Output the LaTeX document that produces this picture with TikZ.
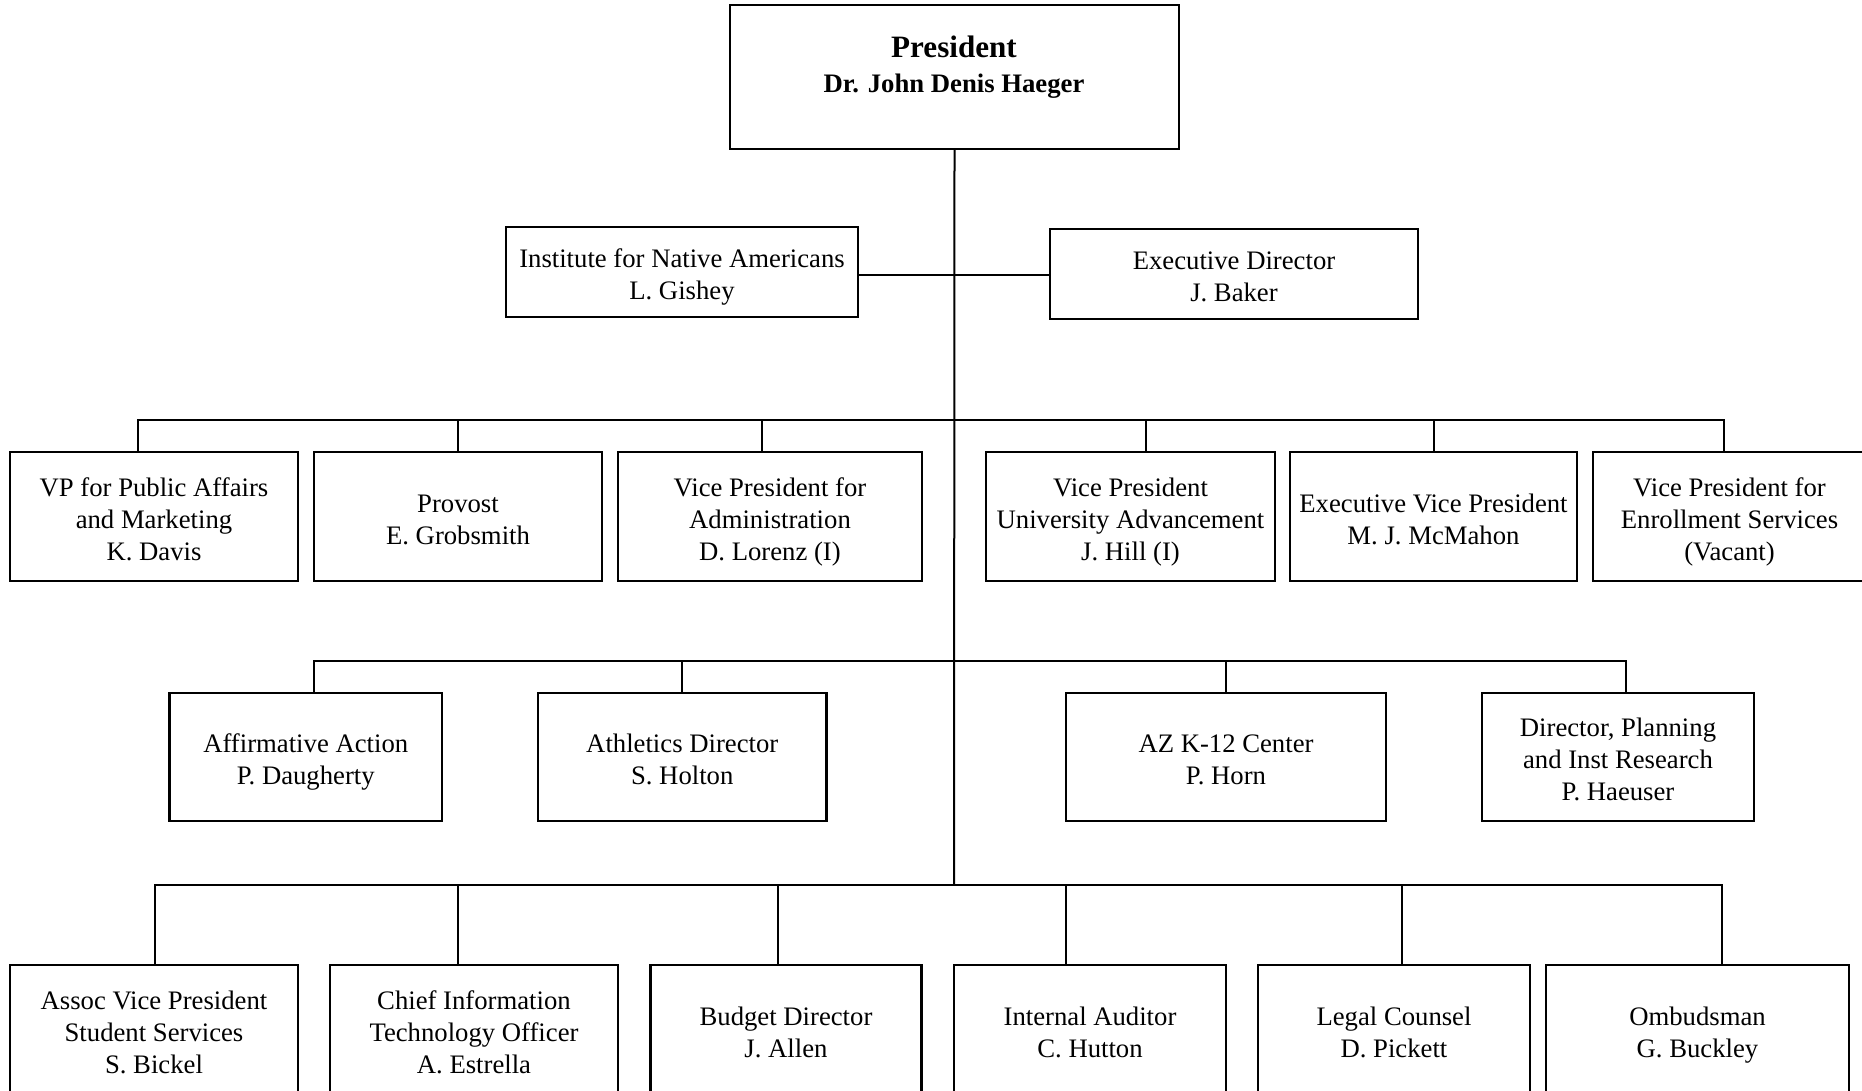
\documentclass[tikz,border=0pt]{standalone}
\usepackage{fontspec}
\setmainfont{Liberation Serif}
\newcommand{\tstr}{\rule{0pt}{29.5pt}}
\newcommand{\bstr}{\rule[-6pt]{0pt}{6pt}}
\begin{document}
\begin{tikzpicture}[x=1pt,y=-1pt,
  box/.style={draw,line width=2.4pt,inner sep=0pt,align=center,
    font={\fontsize{26.7}{32}\selectfont}},
  lvltwo/.style={box,minimum height=129},
  lvlthree/.style={box,minimum height=128},
  lvlfour/.style={box,minimum height=129},
  conn/.style={line width=2pt}]
\useasboundingbox (0,0) rectangle (1862,1090);
\clip (0,0) rectangle (1862,1090);
\fill[white] (0,0) rectangle (1862,1090);

% President
\node[draw,line width=2.4pt,inner sep=0pt,minimum width=449,minimum height=144] (pres) at (954.5,77) {};
\node[font={\fontsize{31.1}{36}\selectfont\bfseries}] (prest) at (954,46.5) {President};
\node[font={\fontsize{26.7}{32}\selectfont\bfseries}] (presn) at (954,86.5) {Dr. John Denis Haeger};

% Level 1
\node[box,minimum width=352,minimum height=90] (ina) at (682,272) {\tstr Institute for Native Americans\\L. Gishey\bstr};
\node[box,minimum width=368,minimum height=90] (exd) at (1234,274) {\tstr Executive Director\\J. Baker\bstr};

% Level 2
\node[lvltwo,minimum width=288] (vppa) at (154,516.5) {\tstr VP for Public Affairs\\and Marketing\\K. Davis\bstr};
\node[lvltwo,minimum width=288] (prov) at (458,516.5) {\tstr Provost\\E. Grobsmith\bstr};
\node[lvltwo,minimum width=304] (vpad) at (770,516.5) {\tstr Vice President for\\Administration\\D. Lorenz (I)\bstr};
\node[lvltwo,minimum width=289] (vpua) at (1130.5,516.5) {\tstr Vice President\\University Advancement\\J. Hill (I)\bstr};
\node[lvltwo,minimum width=287] (evp) at (1433.5,516.5) {\tstr Executive Vice President\\M. J. McMahon\bstr};
\node[lvltwo,minimum width=273] (vpes) at (1729.5,516.5) {\tstr Vice President for\\Enrollment Services\\(Vacant)\bstr};

% Level 3
\node[lvlthree,minimum width=272.5] (aa) at (305.75,757) {\tstr Affirmative Action\\P. Daugherty\bstr};
\node[lvlthree,minimum width=288.5] (ath) at (682.25,757) {\tstr Athletics Director\\S. Holton\bstr};
\node[lvlthree,minimum width=320] (az) at (1226,757) {\tstr AZ K-12 Center\\P. Horn\bstr};
\node[lvlthree,minimum width=272] (dpl) at (1618,757) {\tstr Director, Planning\\and Inst Research\\P. Haeuser\bstr};

% Level 4
\node[lvlfour,minimum width=288] (avp) at (154,1029.5) {\tstr Assoc Vice President\\Student Services\\S. Bickel\bstr};
\node[lvlfour,minimum width=288] (cio) at (474,1029.5) {\tstr Chief Information\\Technology Officer\\A. Estrella\bstr};
\node[lvlfour,minimum width=271] (bud) at (786,1029.5) {\tstr Budget Director\\J. Allen\bstr};
\node[lvlfour,minimum width=272] (ia) at (1090,1029.5) {\tstr Internal Auditor\\C. Hutton\bstr};
\node[lvlfour,minimum width=272] (lc) at (1394,1029.5) {\tstr Legal Counsel\\D. Pickett\bstr};
\node[lvlfour,minimum width=303] (omb) at (1697.5,1029.5) {\tstr Ombudsman\\G. Buckley\bstr};

% bus coordinates
\coordinate (b1) at (954,274.5);
\coordinate (b2) at (954,420);
\coordinate (b3) at (954,661);
\coordinate (b4) at (954,885);

% trunk
\draw[conn] (pres.south) -- (b4);
% level 1 link
\draw[conn] (ina.east |- b1) -- (exd.west |- b1);

% level 2 bus and drops
\draw[conn] ([xshift=-16pt]vppa.north) |- (b2) -| ([xshift=-5.5pt]vpes.north);
\draw[conn] (prov.north) -- (prov.north |- b2);
\draw[conn] ([xshift=-8pt]vpad.north) -- ([xshift=-8pt]vpad.north |- b2);
\draw[conn] ([xshift=15.5pt]vpua.north) -- ([xshift=15.5pt]vpua.north |- b2);
\draw[conn] (evp.north) -- (evp.north |- b2);

% level 3 bus and drops
\draw[conn] ([xshift=8pt]aa.north) |- (b3) -| ([xshift=8pt]dpl.north);
\draw[conn] (ath.north) -- (ath.north |- b3);
\draw[conn] (az.north) -- (az.north |- b3);

% level 4 bus and drops
\draw[conn] ([xshift=0.7pt]avp.north) |- (b4) -| ([xshift=24pt]omb.north);
\draw[conn] ([xshift=-16pt]cio.north) -- ([xshift=-16pt]cio.north |- b4);
\draw[conn] ([xshift=-8pt]bud.north) -- ([xshift=-8pt]bud.north |- b4);
\draw[conn] ([xshift=-24pt]ia.north) -- ([xshift=-24pt]ia.north |- b4);
\draw[conn] ([xshift=7.5pt]lc.north) -- ([xshift=7.5pt]lc.north |- b4);
\end{tikzpicture}
\end{document}
